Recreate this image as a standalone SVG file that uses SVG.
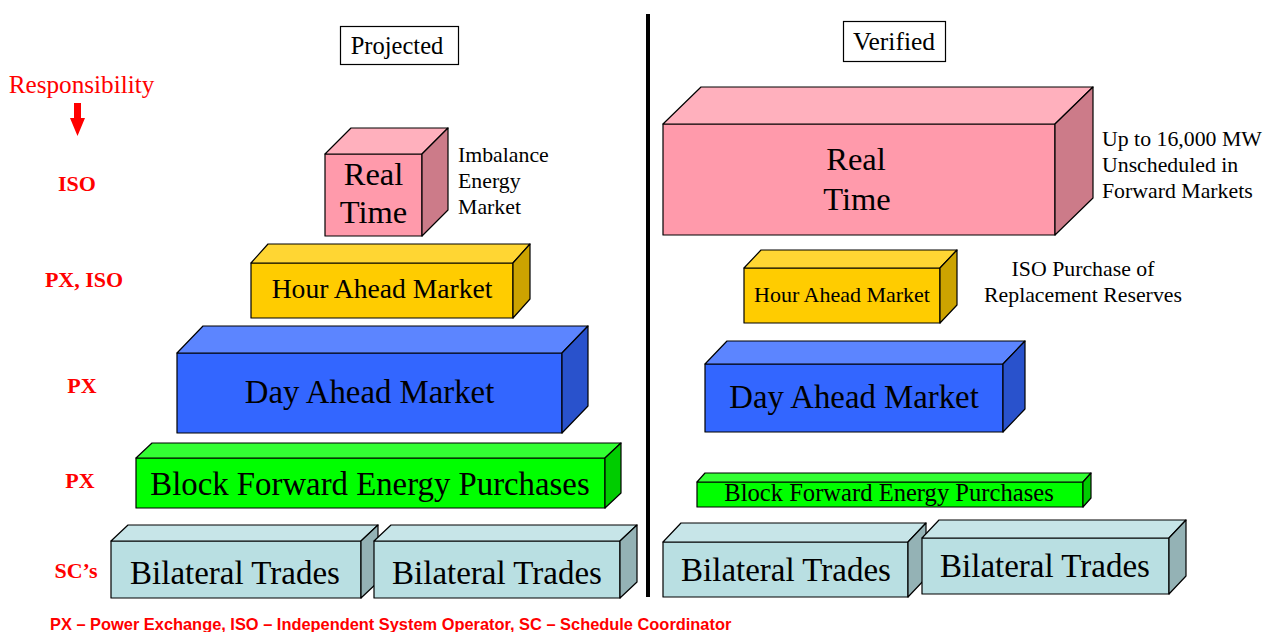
<svg xmlns="http://www.w3.org/2000/svg" width="1276" height="632" viewBox="0 0 1276 632">
  <style>
    .t { font-family: "Liberation Serif", "Times New Roman", serif; fill: #000; }
    .c { text-anchor: middle; }
    .edge { stroke: #000; stroke-width: 1.2; stroke-linejoin: round; }
    .resp { font-family: "Liberation Serif", "Times New Roman", serif; font-weight: bold; fill: #ff0000; font-size: 22px; text-anchor: middle; }
    .note { font-size: 21.8px; }
    .pink .f { fill: #ff9aab; } .pink .u { fill: #ffb0bd; } .pink .s { fill: #cc7b89; }
    .gold .f { fill: #ffcc00; } .gold .u { fill: #ffd633; } .gold .s { fill: #cca300; }
    .blue .f { fill: #3366ff; } .blue .u { fill: #5c85ff; } .blue .s { fill: #2952cc; }
    .green .f { fill: #00ff00; } .green .u { fill: #33ff33; } .green .s { fill: #00cc00; }
    .teal .f { fill: #b9dfe2; } .teal .u { fill: #c7e5e8; } .teal .s { fill: #94b2b5; }
  </style>

  <rect width="1276" height="632" fill="#ffffff"/>

  <!-- column headers -->
  <g id="hdr-projected">
    <rect x="340.5" y="26.5" width="118" height="38" fill="#fff" stroke="#000" stroke-width="1.2"/>
    <text class="t c" x="397" y="54" font-size="24.5">Projected</text>
  </g>
  <g id="hdr-verified">
    <rect x="843.5" y="21.5" width="102" height="40" fill="#fff" stroke="#000" stroke-width="1.2"/>
    <text class="t c" x="894" y="50" font-size="25.5">Verified</text>
  </g>

  <!-- divider between the two columns -->
  <line x1="648" y1="14" x2="648" y2="597" stroke="#000" stroke-width="4"/>

  <!-- responsibility column -->
  <g id="responsibility">
    <text x="81.5" y="93" font-family="Liberation Serif, Times New Roman, serif" font-size="25.2" fill="#ff0000" text-anchor="middle">Responsibility</text>
    <text class="resp" x="77" y="191">ISO</text>
    <text class="resp" x="84" y="287">PX, ISO</text>
    <text class="resp" x="82" y="393">PX</text>
    <text class="resp" x="80" y="488">PX</text>
    <text class="resp" x="76" y="578">SC’s</text>
  </g>

  <g id="connectors">
    <polygon points="74,103 81,103 81,118 85,118 77.5,136 70,118 74,118" fill="#ff0000"/>
  </g>

  <!-- ===== Projected column ===== -->
  <g id="proj-real-time" class="pink">
    <rect class="f edge" x="325" y="154" width="97" height="82"/>
    <polygon class="u edge" points="325,154 351,128 448,128 422,154"/>
    <polygon class="s edge" points="422,154 448,128 448,210 422,236"/>
    <text class="t c" x="373.5" y="185" font-size="32.5">Real</text>
    <text class="t c" x="373.5" y="223" font-size="32.5">Time</text>
  </g>
  <g id="proj-imbalance-note">
    <text class="t note" x="458" y="162">Imbalance</text>
    <text class="t note" x="458" y="188">Energy</text>
    <text class="t note" x="458" y="214">Market</text>
  </g>

  <g id="proj-hour-ahead" class="gold">
    <rect class="f edge" x="251" y="263" width="262" height="55"/>
    <polygon class="u edge" points="251,263 268,244 530,244 513,263"/>
    <polygon class="s edge" points="513,263 530,244 530,299 513,318"/>
    <text class="t c" x="382" y="298" font-size="27.6">Hour Ahead Market</text>
  </g>

  <g id="proj-day-ahead" class="blue">
    <rect class="f edge" x="177" y="353" width="385" height="80"/>
    <polygon class="u edge" points="177,353 203,326 588,326 562,353"/>
    <polygon class="s edge" points="562,353 588,326 588,406 562,433"/>
    <text class="t c" x="369.5" y="403" font-size="32.8">Day Ahead Market</text>
  </g>

  <g id="proj-block-forward" class="green">
    <rect class="f edge" x="136" y="458" width="469" height="50"/>
    <polygon class="u edge" points="136,458 152,443 621,443 605,458"/>
    <polygon class="s edge" points="605,458 621,443 621,493 605,508"/>
    <text class="t c" x="370" y="495" font-size="32.8">Block Forward Energy Purchases</text>
  </g>

  <g id="proj-bilateral-1" class="teal">
    <rect class="f edge" x="111" y="541" width="250" height="57"/>
    <polygon class="u edge" points="111,541 128,525 378,525 361,541"/>
    <polygon class="s edge" points="361,541 378,525 378,582 361,598"/>
    <text class="t c" x="235" y="584" font-size="33">Bilateral Trades</text>
  </g>
  <g id="proj-bilateral-2" class="teal">
    <rect class="f edge" x="374" y="541" width="246" height="57"/>
    <polygon class="u edge" points="374,541 391,525 637,525 620,541"/>
    <polygon class="s edge" points="620,541 637,525 637,582 620,598"/>
    <text class="t c" x="497" y="584" font-size="33">Bilateral Trades</text>
  </g>

  <!-- ===== Verified column ===== -->
  <g id="ver-real-time" class="pink">
    <rect class="f edge" x="663" y="124" width="392" height="111"/>
    <polygon class="u edge" points="663,124 701,87 1093,87 1055,124"/>
    <polygon class="s edge" points="1055,124 1093,87 1093,198 1055,235"/>
    <text class="t c" x="856" y="170" font-size="32.5">Real</text>
    <text class="t c" x="857" y="210" font-size="32.5">Time</text>
  </g>
  <g id="ver-unscheduled-note">
    <text class="t note" x="1102" y="146">Up to 16,000 MW</text>
    <text class="t note" x="1102" y="172">Unscheduled in</text>
    <text class="t note" x="1102" y="198">Forward Markets</text>
  </g>

  <g id="ver-hour-ahead" class="gold">
    <rect class="f edge" x="744" y="268" width="196" height="55"/>
    <polygon class="u edge" points="744,268 761,250 957,250 940,268"/>
    <polygon class="s edge" points="940,268 957,250 957,305 940,323"/>
    <text class="t c" x="842" y="302" font-size="22">Hour Ahead Market</text>
  </g>
  <g id="ver-reserves-note">
    <text class="t c note" x="1083" y="276">ISO Purchase of</text>
    <text class="t c note" x="1083" y="302">Replacement Reserves</text>
  </g>

  <g id="ver-day-ahead" class="blue">
    <rect class="f edge" x="705" y="364" width="298" height="68"/>
    <polygon class="u edge" points="705,364 727,341 1025,341 1003,364"/>
    <polygon class="s edge" points="1003,364 1025,341 1025,409 1003,432"/>
    <text class="t c" x="854" y="408" font-size="32.8">Day Ahead Market</text>
  </g>

  <g id="ver-block-forward" class="green">
    <rect class="f edge" x="697" y="482" width="386" height="25"/>
    <polygon class="u edge" points="697,482 705,473 1091,473 1083,482"/>
    <polygon class="s edge" points="1083,482 1091,473 1091,498 1083,507"/>
    <text class="t c" x="889" y="501" font-size="24.6">Block Forward Energy Purchases</text>
  </g>

  <g id="ver-bilateral-1" class="teal">
    <rect class="f edge" x="663" y="542" width="245" height="55"/>
    <polygon class="u edge" points="663,542 681,523 926,523 908,542"/>
    <polygon class="s edge" points="908,542 926,523 926,578 908,597"/>
    <text class="t c" x="786" y="581" font-size="33">Bilateral Trades</text>
  </g>
  <g id="ver-bilateral-2" class="teal">
    <rect class="f edge" x="922" y="538" width="247" height="56"/>
    <polygon class="u edge" points="922,538 939,520 1186,520 1169,538"/>
    <polygon class="s edge" points="1169,538 1186,520 1186,576 1169,594"/>
    <text class="t c" x="1045" y="577" font-size="33">Bilateral Trades</text>
  </g>

  <!-- legend -->
  <g id="legend">
    <text x="50" y="630" font-family="Liberation Sans, Arial, sans-serif" font-weight="bold" font-size="16.4" fill="#ff0000">PX – Power Exchange, ISO – Independent System Operator, SC – Schedule Coordinator</text>
  </g>
</svg>
